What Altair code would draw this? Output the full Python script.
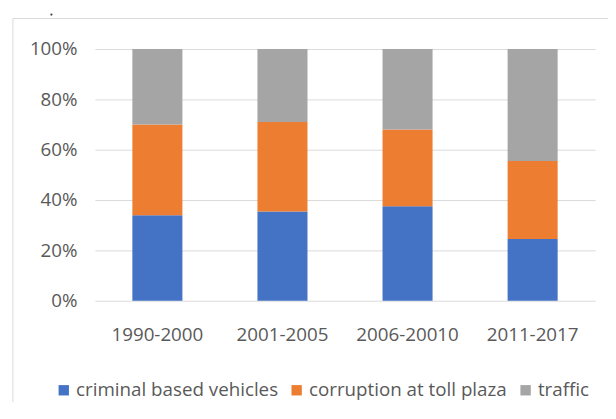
import altair as alt
import pandas as pd

periods = ["1990-2000", "2001-2005", "2006-20010", "2011-2017"]
series = ["criminal based vehicles", "corruption at toll plaza", "traffic"]
criminal = [34.0, 35.5, 37.5, 24.5]
corruption = [36.0, 35.5, 30.5, 31.0]
traffic = [30.0, 29.0, 32.0, 44.5]
colors = ["#4472C4", "#ED7D31", "#A5A5A5"]

rows = []
for i, p in enumerate(periods):
    for k, (s, vals) in enumerate(zip(series, [criminal, corruption, traffic])):
        rows.append({"period": p, "series": s, "value": vals[i], "order": k})
df = pd.DataFrame(rows)

FONT = "Open Sans"
TXT = "#595959"
FS = 19

bars = alt.Chart(df).mark_bar().encode(
    x=alt.X("period:N", sort=periods, title=None,
            scale=alt.Scale(paddingInner=0.6, paddingOuter=0.3),
            axis=alt.Axis(labelAngle=0, domain=False, ticks=False, labelPadding=25,
                          labelFont=FONT, labelFontSize=FS, labelColor=TXT, grid=False)),
    y=alt.Y("value:Q", stack="normalize", title=None,
            scale=alt.Scale(domain=[0, 1]),
            axis=alt.Axis(values=[0, 0.2, 0.4, 0.6, 0.8, 1.0], format=".0%",
                          domain=False, ticks=False, labelPadding=18,
                          labelFont=FONT, labelFontSize=FS, labelColor=TXT,
                          gridColor="#D9D9D9", gridWidth=1)),
    color=alt.Color("series:N", scale=alt.Scale(domain=series, range=colors),
                    legend=alt.Legend(title=None, orient="none", direction="horizontal",
                                      columns=3, legendX=-41, legendY=336,
                                      symbolType="square", symbolSize=110,
                                      symbolStrokeWidth=0, labelOffset=3,
                                      columnPadding=9, labelFont=FONT,
                                      labelFontSize=FS, labelColor=TXT, labelLimit=400)),
    order=alt.Order("order:Q"),
)

one = pd.DataFrame({"a": [0]})
border_top = alt.Chart(one).mark_rule(color="#D9D9D9", strokeWidth=1).encode(
    x=alt.value(-83), x2=alt.value(540), y=alt.value(-31))
border_left = alt.Chart(one).mark_rule(color="#D9D9D9", strokeWidth=1).encode(
    x=alt.value(-83), y=alt.value(-31), y2=alt.value(400))
dot = alt.Chart(one).mark_circle(color="#444444", size=5, opacity=1).encode(
    x=alt.value(-44), y=alt.value(-35))

chart = alt.layer(bars, border_top, border_left, dot).properties(
    width=507, height=255,
    padding={"left": 88, "top": 39, "right": 13, "bottom": 100},
    autosize=alt.AutoSizeParams(type="none"),
).configure_view(stroke=None)

chart.save("out.html", embed_options={"renderer": "svg", "actions": False})
